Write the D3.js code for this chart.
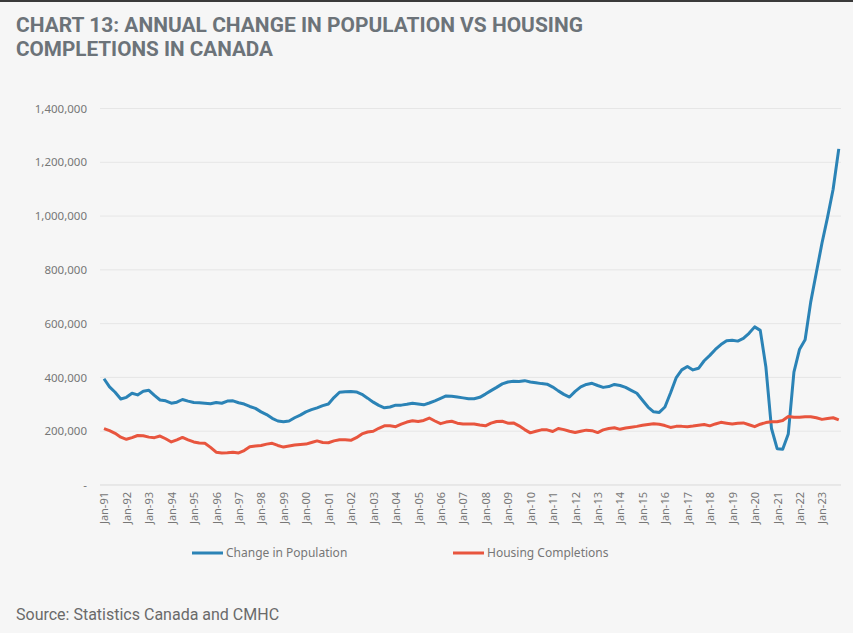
<!DOCTYPE html>
<html>
<head>
<meta charset="utf-8">
<script src="https://cdn.jsdelivr.net/npm/d3@7.9.0/dist/d3.min.js"></script>
<style>
  html, body { margin: 0; padding: 0; background: #f6f6f6; }
  svg { display: block; }
</style>
</head>
<body>
<svg id="chart"></svg>
<script>
const width = 853;
const height = 633;

// Quarterly readings, 1991 Q1 .. 2023 Q4 (thousands)
const startYear = 1991;
const population = [
  395, 365, 345, 320, 326, 341, 335, 349, 352, 333, 316, 313,
  304, 308, 318, 312, 307, 306, 304, 302, 307, 304, 312, 313,
  306, 301, 292, 285, 272, 262, 248, 238, 235, 238, 250, 260,
  272, 280, 287, 295, 301, 325, 345, 347, 348, 346, 337, 323,
  308, 296, 287, 290, 297, 297, 300, 304, 301, 298, 305, 313,
  322, 331, 330, 327, 324, 321, 321, 326, 338, 351, 363, 376,
  383, 386, 385, 388, 383, 380, 377, 375, 364, 350, 337, 327,
  348, 365, 374, 378, 370, 363, 366, 374, 370, 363, 352, 341,
  315, 290, 272, 270, 290, 342, 398, 428, 441, 428, 434, 462,
  482, 504, 522, 536, 538, 535, 545, 564, 588, 575, 440, 210,
  135, 133, 190, 420, 505, 540, 680, 790, 900, 995, 1100, 1250
];
const completions = [
  210, 202, 192, 178, 170, 176, 184, 183, 178, 176, 182, 172,
  160, 168, 177, 168, 160, 156, 155, 140, 122, 119, 120, 122,
  119, 128, 142, 145, 147, 152, 155, 147, 141, 145, 149, 151,
  152, 158, 164, 158, 157, 164, 168, 168, 166, 176, 190, 197,
  200, 211, 220, 220, 217, 226, 234, 239, 236, 240, 249, 238,
  228, 234, 237, 230, 227, 227, 227, 223, 220, 230, 236, 237,
  230, 231, 220, 206, 194, 200, 205, 205, 199, 210, 206, 200,
  195, 200, 204, 202, 195, 205, 210, 213, 207, 212, 215, 218,
  222, 225, 228, 226, 221, 214, 218, 218, 217, 219, 222, 225,
  220, 227, 233, 230, 227, 230, 231, 224, 217, 226, 232, 235,
  235, 240, 255, 252, 252, 254, 254, 250, 244, 247, 250, 242
];
const yTicks = [0, 200000, 400000, 600000, 800000, 1000000, 1200000, 1400000];
const seriesNames = ["Change in Population", "Housing Completions"];
const seriesColors = ["#2b83b6", "#e8553e"];

const dates = population.map((_, i) => new Date(startYear + Math.floor(i / 4), (i % 4) * 3, 1));

const svg = d3.select("#chart").attr("width", width).attr("height", height);

// top border strip
svg.append("rect").attr("x", 0).attr("y", 0).attr("width", width).attr("height", 2).attr("fill", "#3a3a3a");

// title
const titleLines = ["CHART 13: ANNUAL CHANGE IN POPULATION VS HOUSING", "COMPLETIONS IN CANADA"];
const titleWidths = [567, 257];
svg.selectAll("text.title").data(titleLines).join("text")
    .attr("class", "title")
    .attr("x", 16)
    .attr("y", (d, i) => 32 + i * 24)
    .attr("textLength", (d, i) => titleWidths[i])
    .attr("lengthAdjust", "spacingAndGlyphs")
    .style("font-family", "Roboto, sans-serif")
    .style("font-weight", "bold")
    .style("font-size", "19.5px")
    .style("fill", "#6c7379")
    .text(d => d);

const x = d3.scaleTime()
    .domain([new Date(1991, 0, 1), new Date(2023, 0, 1)])
    .range([104, 822]);
const y = d3.scaleLinear().domain([0, 1400000]).range([485, 108.5]);

const g = svg.append("g");

// gridlines
g.selectAll("line.grid").data(yTicks.filter(d => d > 0)).join("line")
    .attr("class", "grid")
    .attr("x1", 100).attr("x2", 841)
    .attr("y1", d => y(d)).attr("y2", d => y(d))
    .attr("stroke", "#e6e6e6").attr("stroke-width", 1);

// y axis labels
const yAxis = d3.axisLeft(y).tickValues(yTicks).tickSize(0).tickPadding(0)
    .tickFormat(d => d === 0 ? "-" : d3.format(",")(d));
const yg = g.append("g").attr("transform", "translate(87,0)").call(yAxis);
yg.select(".domain").remove();
yg.selectAll("text")
    .style("font-family", "'Noto Sans', sans-serif")
    .style("font-size", "11.5px")
    .style("fill", "#777");

// x axis
const xAxis = d3.axisBottom(x).ticks(d3.timeYear.every(1)).tickSize(0).tickPadding(0)
    .tickFormat(d3.timeFormat("%b-%y"));
const xg = g.append("g").attr("transform", "translate(0,485)").call(xAxis);
xg.select(".domain").remove();
g.append("line")
    .attr("x1", 100).attr("x2", 841).attr("y1", 485).attr("y2", 485)
    .attr("stroke", "#d9d9d9").attr("stroke-width", 1);
xg.selectAll("text")
    .attr("transform", "rotate(-90)")
    .attr("x", -7).attr("y", 0).attr("dy", "0.35em")
    .style("text-anchor", "end")
    .style("font-family", "'Noto Sans', sans-serif")
    .style("font-size", "11px")
    .style("fill", "#777");

// lines
const line = d3.line().x((d, i) => x(dates[i])).y(d => y(d * 1000));
[population, completions].forEach((vals, k) => {
  g.append("path")
      .datum(vals)
      .attr("d", line)
      .attr("fill", "none")
      .attr("stroke", seriesColors[k])
      .attr("stroke-width", 3)
      .attr("stroke-linejoin", "round");
});

// legend
const legendX = [192, 453];
const legend = svg.append("g");
seriesNames.forEach((name, k) => {
  legend.append("line")
      .attr("x1", legendX[k]).attr("x2", legendX[k] + 31)
      .attr("y1", 553).attr("y2", 553)
      .attr("stroke", seriesColors[k]).attr("stroke-width", 3);
  legend.append("text")
      .attr("x", legendX[k] + 34).attr("y", 557)
      .style("font-family", "'Noto Sans', sans-serif")
      .style("font-size", "12px")
      .style("fill", "#777")
      .text(name);
});

// source
svg.append("text")
    .attr("x", 16).attr("y", 620)
    .style("font-family", "Roboto, sans-serif")
    .style("font-size", "16px")
    .style("fill", "#6a6a6a")
    .text("Source: Statistics Canada and CMHC");
</script>
</body>
</html>
